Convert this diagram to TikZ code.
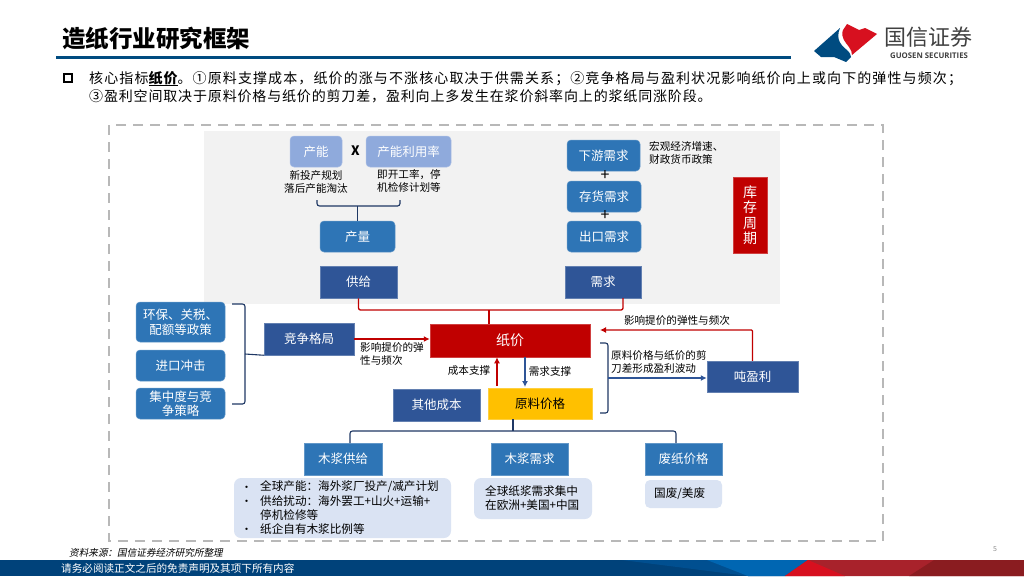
\documentclass[tikz,border=0pt]{standalone}
\usepackage{fontspec}
\setmainfont{Noto Sans CJK SC}
\newfontfamily\slantcjk[FakeSlant=0.2]{Noto Sans CJK SC}
\newfontfamily\bodycjk[LetterSpace=6]{Noto Sans CJK SC}
\newfontfamily\bodycjkw[LetterSpace=7.9]{Noto Sans CJK SC}
\newfontfamily\logolat{Open Sans}
\usetikzlibrary{arrows.meta}
\definecolor{cLight}{HTML}{8FAADC}
\definecolor{cMid}{HTML}{2E75B6}
\definecolor{cDark}{HTML}{2F5597}
\definecolor{cRed}{HTML}{C00000}
\definecolor{cGold}{HTML}{FFC000}
\definecolor{cPale}{HTML}{DAE3F3}
\definecolor{cNavy}{HTML}{1F3864}
\definecolor{cRule}{HTML}{004B80}
\definecolor{cFoot}{HTML}{00427A}
\definecolor{cFootB}{HTML}{004F90}
\definecolor{cFootC}{HTML}{0066B2}
\definecolor{cLogoR}{HTML}{D7101F}
\definecolor{cFootD}{HTML}{A8222B}
\definecolor{cFootE}{HTML}{8A1C20}
\tikzset{
  bx/.style={inner sep=0pt,text=white,font=\fontsize{12.5}{15}\selectfont,align=center},
  softbox/.style={bx,rounded corners=4,fill=#1,draw=#1!75!white,line width=0.5pt},
  flatbox/.style={bx,fill=#1,draw=#1!75!white,line width=0.5pt},
  note/.style={inner sep=0pt,font=\fontsize{10.6}{13}\selectfont,align=left,text=black},
  notec/.style={note,align=center},
  listbox/.style={rounded corners=7,fill=cPale,inner sep=0pt},
  listtxt/.style={inner sep=0pt,anchor=west,font=\fontsize{11.6}{14}\selectfont,text=black},
  dotmark/.style={inner sep=0pt,font=\fontsize{11}{14}\selectfont},
  plusmark/.style={inner sep=0pt,font=\fontsize{16}{18}\selectfont},
  redline/.style={cRed,line width=1.3pt,rounded corners=2},
  navyline/.style={cNavy,line width=1.1pt,rounded corners=2.5},
  bluearrow/.style={cDark,line width=1.3pt,-{Latex[length=6pt,width=6pt]}},
  redarrow/.style={cRed,line width=1.3pt,rounded corners=1,-{Latex[length=6pt,width=6pt]}},
}
\begin{document}
\begin{tikzpicture}[x=1pt,y=-1pt]
\useasboundingbox (0,0) rectangle (1024,576);
% header
\node[inner sep=0pt,anchor=west,font=\fontsize{23.5}{26}\bfseries\selectfont] (title) at (62,39) {造纸行业研究框架};
\fill[cRule] (56,55.5) rectangle (791,59);
% logo
\fill[cRule] (814,51) -- (840,28) .. controls (835,40) and (842,46) .. (847,50) .. controls (850,53) and (851,55) .. (851,57) -- (846,62) -- (834,57) -- (821,57) -- cycle;
\fill[cLogoR] (847,24) -- (843,30) .. controls (840,37) and (846,43) .. (849,47) .. controls (851,50) and (852,52) .. (852,55) -- (877,34) -- (865,28) -- (859,30) -- cycle;
\node[inner sep=0pt,text=black!75,font=\fontsize{22}{24}\selectfont] (lgcn) at (928.5,37) {国信证券};
\node[inner sep=0pt,text=black!75,font=\logolat\fontsize{7.8}{9}\bfseries\selectfont] (lgen) at (929,55.5) {GUOSEN SECURITIES};
% intro
\draw[black,line width=2pt] (64,74) rectangle (72,82);
\node[inner sep=0pt,anchor=west,font=\bodycjkw\fontsize{14}{17}\selectfont] (l1) at (89,79) {核心指标\rlap{\rule[-2.6pt]{29pt}{1pt}}{\bfseries 纸价}。①原料支撑成本，纸价的涨与不涨核心取决于供需关系；②竞争格局与盈利状况影响纸价向上或向下的弹性与频次；};
\node[inner sep=0pt,anchor=west,font=\bodycjk\fontsize{14}{17}\selectfont] (l2) at (89,96) {③盈利空间取决于原料价格与纸价的剪刀差，盈利向上多发生在浆价斜率向上的浆纸同涨阶段。};
% frames
\draw[black!28,line width=1.6pt,dash pattern=on 10pt off 7pt] (109,125) rectangle (883,541);
\fill[black!5] (204,131) rectangle (780,304);
% supply side
\node[softbox=cLight,minimum width=52pt,minimum height=31pt] (cap) at (316,151.5) {产能};
\node[softbox=cLight,minimum width=85pt,minimum height=31pt] (util) at (408.5,151.5) {产能利用率};
\node[inner sep=0pt,font=\fontsize{13}{15}\bfseries\selectfont] (times) at (355.5,151) {X};
\node[notec] (capn) at (316,182) {新投产规划\\落后产能淘汰};
\node[notec] (utiln) at (409,180.5) {即开工率，停\\机检修计划等};
\node[softbox=cMid,minimum width=75pt,minimum height=31pt] (output) at (357.5,236.5) {产量};
\node[flatbox=cDark,minimum width=77pt,minimum height=32pt] (supply) at (358.5,282) {供给};
\coordinate (bl) at (317,200);
\coordinate (br) at (400,200);
\coordinate (bm) at (output.north |- 0,206);
\draw[navyline] (bl) -- (317,206) -- (400,206) -- (br);
\draw[navyline] (bm) -- (output.north);
% demand side
\node[softbox=cMid,minimum width=73pt,minimum height=31pt] (dn) at (603.5,155.5) {下游需求};
\node[softbox=cMid,minimum width=74pt,minimum height=31pt] (inv) at (604,196.5) {存货需求};
\node[softbox=cMid,minimum width=74pt,minimum height=31pt] (exp) at (604,236.5) {出口需求};
\node[flatbox=cDark,minimum width=76pt,minimum height=32pt] (demand) at (603,282) {需求};
\node[plusmark] (p1) at (605,175.5) {+};
\node[plusmark] (p2) at (605,215.5) {+};
\node[note,anchor=west] (macro) at (649,153) {宏观经济增速、\\财政货币政策};
\node[flatbox=cRed,minimum width=34pt,minimum height=76pt,font=\fontsize{14}{15.5}\selectfont] (cycle) at (750,215) {库\\存\\周\\期};
% paper price
\node[flatbox=cRed,minimum width=160pt,minimum height=33pt,font=\fontsize{14}{16}\selectfont] (paper) at (510,340.5) {纸价};
\coordinate (pj) at (489,310);
\coordinate (dj) at (623,298);
\draw[redline] (supply.south) -- (358.5,310) -- (623,310) -- (dj);
\draw[redline] (pj) -- (paper.north -| pj);
% competition
\node[flatbox=cDark,minimum width=90pt,minimum height=32pt] (comp) at (309,339) {竞争格局};
\node[softbox=cMid,minimum width=89pt,minimum height=40pt] (env) at (180.5,322) {环保、关税、\\配额等政策};
\node[softbox=cMid,minimum width=89pt,minimum height=31pt] (imp) at (180.5,365.5) {进口冲击};
\node[softbox=cMid,minimum width=89pt,minimum height=31pt,font=\fontsize{12.5}{14.5}\selectfont] (conc) at (180.5,403.5) {集中度与竞\\争策略};
\coordinate (lb1) at (232,304);
\coordinate (lb2) at (232,404);
\coordinate (lbm) at (245,354);
\draw[navyline] (lb1) -- (245,304) -- (245,404) -- (lb2);
\draw[navyline] (lbm) -- (comp.south west);
\draw[redarrow] (comp.east) -- (comp.east -| paper.west);
\node[note,anchor=west] (cn1) at (360,354) {影响提价的弹\\性与频次};
% cost
\node[flatbox=cDark,minimum width=87pt,minimum height=32pt] (other) at (436.5,405) {其他成本};
\node[flatbox=cGold,minimum width=104pt,minimum height=31pt,text=black] (raw) at (540,403.5) {原料价格};
\coordinate (ca) at (497,386);
\coordinate (da) at (525,387);
\draw[redarrow] (ca) -- (ca |- paper.south);
\draw[bluearrow] (da |- paper.south) -- (da);
\node[note] (cs) at (469,371) {成本支撑};
\node[note] (ds) at (550,371) {需求支撑};
% profit
\node[flatbox=cDark,minimum width=91pt,minimum height=31pt] (profit) at (752.5,376.5) {吨盈利};
\coordinate (pa) at (600,330);
\draw[redarrow] (profit.north) -- (752.5,330) -- (pa);
\node[notec] (pn) at (677,320) {影响提价的弹性与频次};
\coordinate (rb1) at (600,343);
\coordinate (rb2) at (600,413);
\coordinate (rbm) at (608,378);
\draw[navyline] (rb1) -- (608,343) -- (608,413) -- (rb2);
\draw[bluearrow] (rbm) -- (rbm -| profit.west);
\node[note,anchor=west] (sn) at (611,361.5) {原料价格与纸价的剪\\刀差形成盈利波动};
% bottom tree
\node[flatbox=cMid,minimum width=78pt,minimum height=32pt] (pulps) at (343,459) {木浆供给};
\node[flatbox=cMid,minimum width=77pt,minimum height=32pt] (pulpd) at (529.5,459) {木浆需求};
\node[flatbox=cMid,minimum width=77pt,minimum height=32pt] (waste) at (683.5,459) {废纸价格};
\coordinate (ts) at (513,431);
\coordinate (tl) at (350,443);
\coordinate (tr) at (676,443);
\draw[navyline] (tl) -- (350,431) -- (676,431) -- (tr);
\draw[navyline] (ts) -- (ts |- raw.south);
% lists
\node[listbox,minimum width=217pt,minimum height=60pt] (lista) at (342.5,508) {};
\node[listbox,minimum width=118pt,minimum height=41pt] (listb) at (533,498.5) {};
\node[listbox,rounded corners=5,minimum width=77pt,minimum height=28pt] (listc) at (683.5,494) {};
\node[listtxt] (a1) at (260,487) {全球产能：海外浆厂投产/减产计划};
\node[listtxt] (a2) at (260,501) {供给扰动：海外罢工+山火+运输+};
\node[listtxt] (a3) at (260,515) {停机检修等};
\node[listtxt] (a4) at (260,529) {纸企自有木浆比例等};
\node[dotmark] (b1) at (246.5,488.5) {•};
\node[dotmark] (b2) at (246.5,502.5) {•};
\node[dotmark] (b3) at (246.5,530.5) {•};
\node[listtxt] (d1) at (485,491) {全球纸浆需求集中};
\node[listtxt] (d2) at (485,505) {在欧洲+美国+中国};
\node[listtxt] (w1) at (654,494) {国废/美废};
% footer
\node[inner sep=0pt,anchor=west,font=\slantcjk\fontsize{9.6}{11}\selectfont] (src) at (69,553) {资料来源：国信证券经济研究所整理};
\node[inner sep=0pt,text=black!45,font=\fontsize{7}{8}\selectfont] (pg) at (995,549) {5};
\fill[cFoot] (0,560) rectangle (1024,576);
\fill[cFootB] (622,560) -- (808,560) -- (785,576) -- (748,576) -- cycle;
\fill[cFootC] (707,560) -- (808,560) -- (785,576) -- (748,576) -- cycle;
\fill[cFootD] (808,560) -- (1024,560) -- (1024,576) -- (785,576) -- cycle;
\fill[cLogoR] (808,560) -- (845,576) -- (785,576) -- cycle;
\fill[cFootE] (934,560) -- (1024,560) -- (1024,576) -- (909,576) -- cycle;
\node[inner sep=0pt,anchor=west,text=white,font=\fontsize{10.6}{12}\selectfont] (ftxt) at (61,568) {请务必阅读正文之后的免责声明及其项下所有内容};
\end{tikzpicture}
\end{document}
